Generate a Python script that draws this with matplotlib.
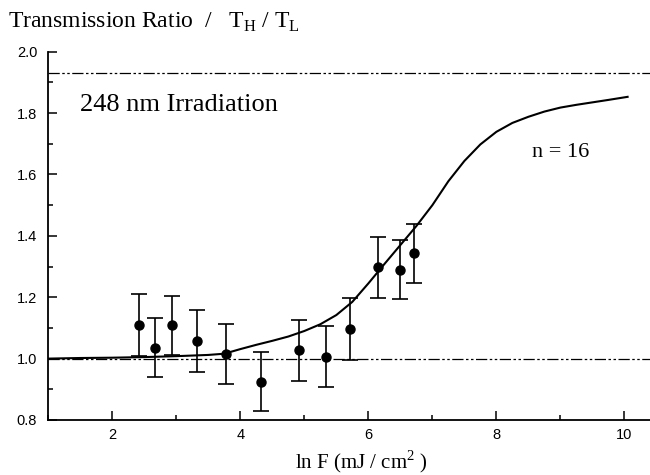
import matplotlib
matplotlib.use("Agg")
import matplotlib.pyplot as plt
from matplotlib.ticker import MultipleLocator

# -----------------------------
# Data
# -----------------------------
ln_f = [2.42, 2.66, 2.94, 3.32, 3.77, 4.33, 4.91, 5.34, 5.72, 6.15, 6.50, 6.71]
ratio = [1.110, 1.036, 1.108, 1.057, 1.015, 0.924, 1.027, 1.006, 1.096, 1.297, 1.290, 1.343]
ratio_err = [0.100, 0.095, 0.095, 0.100, 0.097, 0.096, 0.100, 0.100, 0.100, 0.100, 0.097, 0.095]

fit_x = [1.0, 1.5, 2.0, 2.5, 3.0, 3.5, 3.75, 4.0, 4.25, 4.5, 4.75, 5.0, 5.25, 5.5,
         5.75, 6.0, 6.25, 6.5, 6.75, 7.0, 7.25, 7.5, 7.75, 8.0, 8.25, 8.5, 8.75,
         9.0, 9.25, 9.5, 9.75, 10.05]
fit_y = [1.000, 1.002, 1.003, 1.005, 1.008, 1.012, 1.016, 1.031, 1.045, 1.058, 1.072,
         1.090, 1.112, 1.142, 1.185, 1.245, 1.308, 1.370, 1.432, 1.500, 1.578, 1.644,
         1.698, 1.739, 1.768, 1.788, 1.805, 1.818, 1.827, 1.835, 1.843, 1.853]

ref_levels = [1.0, 1.93]

plt.rcParams['font.family'] = ['Liberation Sans', 'DejaVu Sans']
plt.rcParams['mathtext.fontset'] = 'custom'
plt.rcParams['mathtext.rm'] = 'Liberation Serif'
serif = ['Liberation Serif', 'DejaVu Serif']

fig = plt.figure(figsize=(6.5, 4.75), dpi=100)
ax = fig.add_axes([0.0743, 0.1158, 0.9257, 0.7753])

for lvl in ref_levels:
    ax.axhline(lvl, color='black', lw=0.9, linestyle=(0, (9, 2, 2, 2, 2, 2)))

ax.plot(fit_x, fit_y, color='black', lw=1.5)

ax.errorbar(ln_f, ratio, yerr=ratio_err, fmt='o', color='black', ms=6.5,
            elinewidth=1.2, capsize=6, capthick=1.2)

ax.set_xlim(1, 10.4)
ax.set_ylim(0.8, 2.0)
ax.xaxis.set_major_locator(MultipleLocator(2))
ax.xaxis.set_minor_locator(MultipleLocator(1))
ax.yaxis.set_major_locator(MultipleLocator(0.2))
ax.yaxis.set_minor_locator(MultipleLocator(0.1))
ax.xaxis.set_major_formatter(plt.FuncFormatter(lambda v, p: '' if v < 1.5 else f"{v:.0f}"))
ax.yaxis.set_major_formatter(plt.FuncFormatter(lambda v, p: f"{v:.1f}"))

ax.tick_params(which='major', direction='in', length=6.5, width=1.1, labelsize=10.5, pad=6)
ax.tick_params(which='minor', direction='in', length=3.5, width=1.1)
ax.tick_params(axis='y', which='both', pad=8)
for side in ['top', 'right']:
    ax.spines[side].set_visible(False)
for side in ['left', 'bottom']:
    ax.spines[side].set_linewidth(1.3)

ax.text(1.5, 1.826, "248 nm Irradiation", family=serif, fontsize=19, va='center', ha='left')
ax.text(8.55, 1.673, "n = 16", family=serif, fontsize=16, va='center', ha='left')

ax.set_xlabel(r"ln F (mJ / cm$^{2}$ )", family=serif, fontsize=15, labelpad=4, x=0.52)
fig.text(0.012, 0.952, r"Transmission Ratio  /   T$_{\rm H}$ / T$_{\rm L}$",
         family=serif, fontsize=17, va='center', ha='left')

fig.savefig("out.png", dpi=100)
